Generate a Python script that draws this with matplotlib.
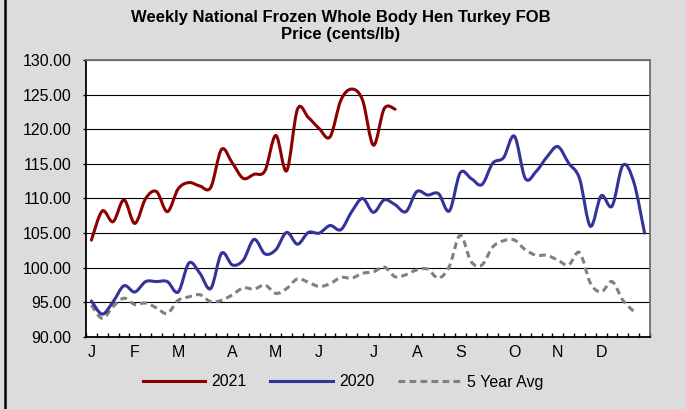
import numpy as np
import matplotlib
matplotlib.use("Agg")
import matplotlib.pyplot as plt
from matplotlib.path import Path
from matplotlib.patches import PathPatch
from matplotlib.lines import Line2D

plt.rcParams['font.family'] = ['Liberation Sans', 'DejaVu Sans']

title = "Weekly National Frozen Whole Body Hen Turkey FOB\nPrice (cents/lb)"
month_labels = ["J", "F", "M", "A", "M", "J", "J", "A", "S", "O", "N", "D"]
month_weeks = [0, 4, 8, 13, 17, 21, 26, 30, 34, 39, 43, 47]
yticks = [90, 95, 100, 105, 110, 115, 120, 125, 130]

s2021 = [104.0, 108.2, 106.65, 109.8, 106.4, 110.0, 111.0, 108.1, 111.4, 112.3,
         111.8, 111.6, 117.1, 115.1, 112.9, 113.5, 114.0, 119.1, 114.0, 122.9,
         121.7, 120.1, 118.9, 124.2, 125.8, 124.2, 117.7, 123.0, 122.9]
s2020 = [95.2, 93.3, 95.1, 97.4, 96.5, 98.0, 98.0, 98.0, 96.5, 100.7,
         99.2, 97.0, 102.1, 100.4, 101.1, 104.1, 102.0, 102.6, 105.1, 103.4,
         105.1, 105.0, 106.1, 105.5, 108.1, 110.0, 108.0, 109.8, 109.1, 108.1,
         111.0, 110.5, 110.7, 108.2, 113.7, 112.9, 112.0, 115.1, 115.9, 119.0,
         112.9, 113.9, 116.0, 117.5, 115.1, 112.9, 106.0, 110.4, 108.9, 114.8,
         112.4, 105.0]
avg5 = [94.6, 92.7, 94.4, 95.6, 94.7, 94.9, 94.2, 93.4, 95.3, 95.8,
        96.1, 95.1, 95.3, 96.1, 97.1, 96.9, 97.5, 96.3, 97.0, 98.4,
        97.9, 97.3, 97.7, 98.6, 98.5, 99.2, 99.4, 100.1, 98.7, 99.0,
        99.7, 99.8, 98.5, 100.2, 104.7, 100.9, 100.4, 103.0, 103.9, 104.0,
        102.6, 101.8, 101.8, 101.1, 100.4, 102.2, 97.8, 96.5, 98.0, 95.3,
        93.7]

C2021 = "#8b0000"
C2020 = "#333399"
CAVG = "#808080"
BG = "#dcdcdc"


def smooth_path(ys):
    x = np.arange(len(ys)) + 0.5
    y = np.asarray(ys, dtype=float)
    pts = np.column_stack([x, y])
    verts = [pts[0]]
    codes = [Path.MOVETO]
    n = len(pts)
    for i in range(n - 1):
        p0 = pts[i - 1] if i > 0 else pts[i]
        p1 = pts[i]
        p2 = pts[i + 1]
        p3 = pts[i + 2] if i + 2 < n else pts[i + 1]
        c1 = p1 + (p2 - p0) / 6.0
        c2 = p2 - (p3 - p1) / 6.0
        verts += [c1, c2, p2]
        codes += [Path.CURVE4] * 3
    return Path(np.array(verts), codes)


fig = plt.figure(figsize=(6.86, 4.09), dpi=100, facecolor=BG)
ax = fig.add_axes([86 / 686, 72 / 409, 564 / 686, 277 / 409])
ax.set_facecolor("white")

ax.set_xlim(0, 52)
ax.set_ylim(90, 130)

for v in yticks:
    ax.axhline(v, color="black", lw=0.8, zorder=1)

lw = 2.2
dash = (0, (2.2, 1.4))
ax.add_patch(PathPatch(smooth_path(avg5), fill=False, edgecolor=CAVG, lw=lw,
                       linestyle=dash, capstyle="butt", zorder=3))
ax.add_patch(PathPatch(smooth_path(s2020), fill=False, edgecolor=C2020, lw=lw,
                       capstyle="round", joinstyle="round", zorder=4))
ax.add_patch(PathPatch(smooth_path(s2021), fill=False, edgecolor=C2021, lw=lw,
                       capstyle="round", joinstyle="round", zorder=5))

ax.set_yticks(yticks)
ax.set_yticklabels([f"{v:.2f}" for v in yticks], fontsize=11.5)
ax.tick_params(axis="y", direction="out", length=2.5, width=1, pad=8)

ax.set_xticks([w + 0.5 for w in month_weeks])
ax.set_xticklabels(month_labels, fontsize=11.5)
ax.set_xticks(np.arange(0, 53), minor=True)
ax.tick_params(axis="x", which="major", length=0, pad=6)
ax.tick_params(axis="x", which="minor", direction="in", length=3, width=1)

for side in ["left", "bottom"]:
    ax.spines[side].set_color("black")
    ax.spines[side].set_linewidth(1.3)
for side in ["top", "right"]:
    ax.spines[side].set_color("#707070")
    ax.spines[side].set_linewidth(1.3)

fig.text(0.497, 1 - 26 / 409, title, ha="center", va="center",
         fontsize=12, fontweight="bold", linespacing=1.2)

handles = [Line2D([], [], color=C2021, lw=lw),
           Line2D([], [], color=C2020, lw=lw),
           Line2D([], [], color=CAVG, lw=lw, linestyle=dash)]
fig.legend(handles, ["2021", "2020", "5 Year Avg"], loc="center",
           bbox_to_anchor=(0.5, 1 - 382 / 409), ncol=3, frameon=False,
           fontsize=11.5, handlelength=3.9, handletextpad=0.4,
           columnspacing=1.5)

fig.add_artist(Line2D([5 / 686, 5 / 686], [0, 1], color="black", lw=1.8,
                      transform=fig.transFigure))

fig.savefig("out.png", dpi=100, facecolor=BG)
